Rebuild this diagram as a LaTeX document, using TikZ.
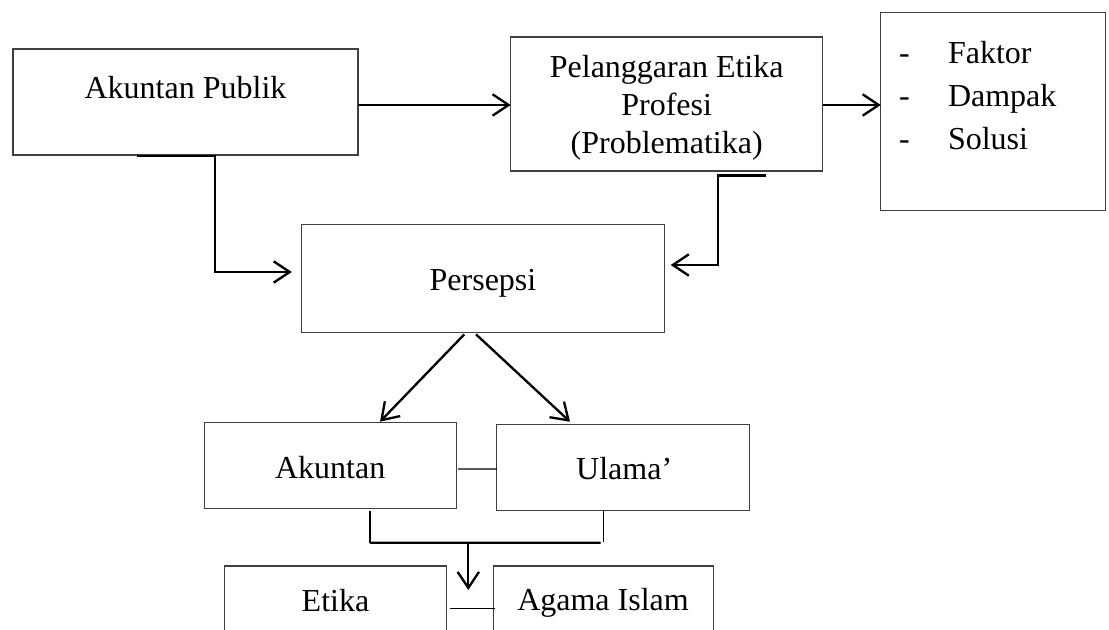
\documentclass[tikz,border=0pt]{standalone}
\usepackage{fontspec}
\setmainfont{Liberation Serif}
\usetikzlibrary{arrows.meta,calc}
\begin{document}
\begin{tikzpicture}[x=0.75pt,y=-0.75pt,
  box/.style={draw=black!75, line width=0.8pt, rectangle, inner sep=0pt, outer sep=0pt},
  txt/.style={inner sep=0pt, outer sep=0pt, font=\fontsize{24}{28}\selectfont},
  conn/.style={draw=black, line width=1.75pt},
  thinconn/.style={draw=black, line width=1.1pt},
  arr/.style={-{Straight Barb[length=12pt,width=16pt]}}]
\path[use as bounding box] (0,0) rectangle (1109,630);
\clip (0,0) rectangle (1109,630);

% boxes
\node[box, minimum width=258.75pt, minimum height=79.5pt] (ap) at (185.5,102) {};
\node[txt, anchor=base] (apT) at (185.5,98.3) {Akuntan Publik};

\node[box, minimum width=234pt, minimum height=100.5pt] (pel) at (666.7,104) {};
\node[txt, anchor=base] (pelT1) at (666.7,77.7) {Pelanggaran Etika};
\node[txt, anchor=base] (pelT2) at (666.7,115.3) {Profesi};
\node[txt, anchor=base] (pelT3) at (666.7,153.3) {(Problematika)};

\node[box, minimum width=168.2pt, minimum height=148.8pt] (fds) at (992.9,111.5) {};
\node[txt, anchor=base west] (fdsT1) at (899,64) {\makebox[36.75pt][l]{-}Faktor};
\node[txt, anchor=base west] (fdsT2) at (899,106.7) {\makebox[36.75pt][l]{-}Dampak};
\node[txt, anchor=base west] (fdsT3) at (899,150) {\makebox[36.75pt][l]{-}Solusi};

\node[box, minimum width=271.7pt, minimum height=81.5pt] (pers) at (482.9,278.4) {};
\node[txt, anchor=base] (persT) at (483,290.7) {Persepsi};

\node[box, minimum width=189.3pt, minimum height=64.2pt] (ak) at (330.5,465.5) {};
\node[txt, anchor=base] (akT) at (330.2,478.3) {Akuntan};

\node[box, minimum width=189.2pt, minimum height=64.3pt] (ul) at (622.9,467.2) {};
\node[txt, anchor=base] (ulT) at (624.2,479.3) {Ulama’};

\node[box, minimum width=166.8pt, minimum height=64.5pt] (et) at (335.5,609) {};
\node[txt, anchor=base] (etT) at (335.5,611.7) {Etika};

\node[box, minimum width=165pt, minimum height=64.5pt] (ag) at (603.3,609) {};
\node[txt, anchor=base] (agT) at (603,610.7) {Agama Islam};

% connectors
\draw[conn,arr] ($(ap.east)+(0,3)$) -- ($(pel.west)+(0,1)$);
\draw[conn,arr] ($(pel.east)+(0,1)$) -- ($(fds.west)+(0,-6.5)$);

\draw[conn,arr] ($(ap.south west)+(124,1)$) -| ($(pers.west)+(-87,-6.4)$) -- ($(pers.west)+(-10,-6.4)$);
\draw[conn,arr] ($(pel.south east)+(-56.7,4.5)$) -| ($(pers.east)+(54,-13.4)$) -- ($(pers.east)+(6.7,-13.4)$);

\draw[conn,arr] ($(pers.south)+(-18.6,1.6)$) -- ($(ak.north)+(49.5,-1)$);
\draw[conn,arr] ($(pers.south)+(-6.9,1.6)$) -- ($(ul.north)+(-52.9,-2.6)$);

\draw[thinconn] ($(ak.east)+(1.3,3.5)$) -- ($(ul.west)+(0,1.8)$);

\coordinate (jL) at ($(ak.south)+(39.5,34.4)$);
\coordinate (jR) at ($(ul.south)+(-22.2,32.7)$);
\draw[thinconn] ($(ak.south)+(39.5,2.4)$) -- (jL);
\draw[conn] (jL) -- (jR);
\draw[thinconn] ($(ul.south)+(-19.6,0)$) -- ($(ul.south)+(-19.6,31.7)$);
\draw[conn,arr] ($(jL)+(98.3,0)$) -- ($(jL)+(98.3,47.3)$);

\draw[thinconn] ($(et.east)+(3.3,-0.7)$) -- ($(ag.west)+(1.7,-0.7)$);
\end{tikzpicture}
\end{document}
